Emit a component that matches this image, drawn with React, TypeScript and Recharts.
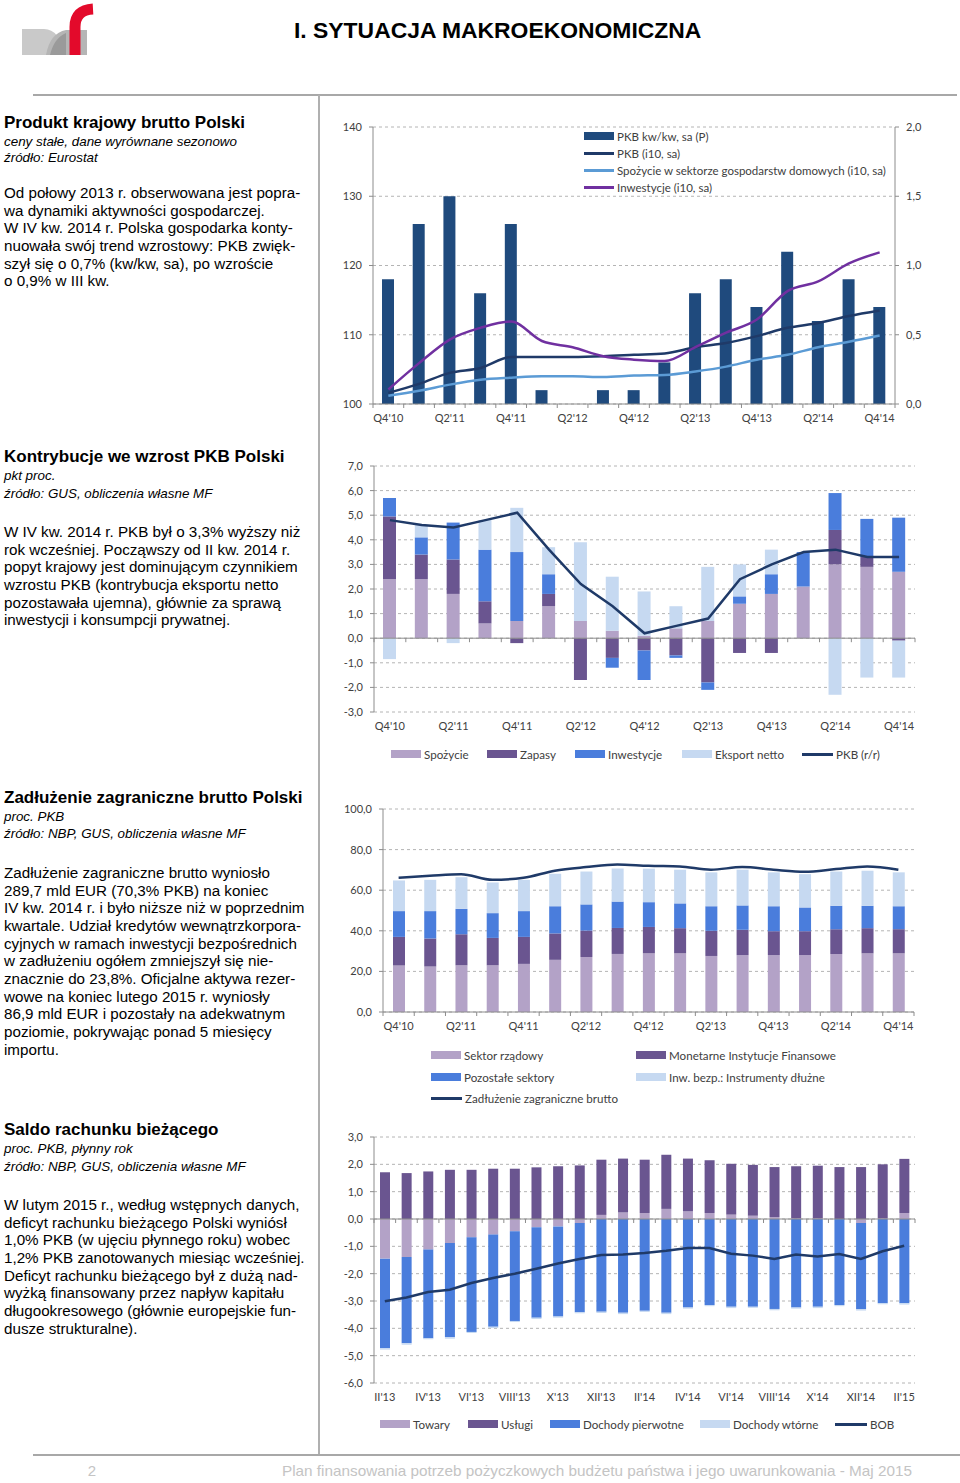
import {
  Bar,
  CartesianGrid,
  ComposedChart,
  Line,
  ReferenceLine,
  XAxis,
  YAxis,
} from "recharts";

// ---- data ----
const QUARTERS = ["Q4'10", "Q1'11", "Q2'11", "Q3'11", "Q4'11", "Q1'12", "Q2'12", "Q3'12", "Q4'12", "Q1'13", "Q2'13", "Q3'13", "Q4'13", "Q1'14", "Q2'14", "Q3'14", "Q4'14"];

// chart 1: PKB
const GDP_QOQ = [0.9, 1.3, 1.5, 0.8, 1.3, 0.1, 0, 0.1, 0.1, 0.3, 0.8, 0.9, 0.7, 1.1, 0.6, 0.9, 0.7];
const GDP_IDX = [101.6, 102.9, 104.5, 105.2, 106.8, 106.8, 106.8, 106.9, 107.1, 107.3, 108.2, 108.8, 109.8, 111.0, 111.7, 112.7, 113.5];
const CONS_IDX = [101.2, 101.9, 102.8, 103.5, 103.8, 104.0, 104.0, 103.9, 104.1, 104.2, 104.7, 105.4, 106.4, 107.1, 108.2, 109.0, 109.9];
const INV_IDX = [102.1, 105.9, 109.3, 111.0, 111.9, 109.1, 108.2, 106.9, 106.4, 106.2, 108.2, 110.3, 112.2, 116.3, 117.7, 120.3, 121.9];

// chart 2: kontrybucje
const C_CONS = [2.4, 2.4, 1.8, 0.6, 0.7, 1.3, 0.7, 0.3, 0.1, 0.4, 0.7, 1.4, 1.8, 2.1, 3.0, 2.9, 2.7];
const C_STOCK = [2.55, 1.0, 1.4, 0.9, -0.2, 0.5, -1.7, -0.8, -0.5, -0.7, -1.8, -0.6, -0.6, 0, 1.4, 0.4, -0.1];
const C_INV = [0.75, 0.7, 1.5, 2.1, 2.8, 0.8, 0, -0.4, -1.2, -0.1, -0.3, 0.3, 0.8, 1.4, 1.5, 1.55, 2.2];
const C_NX = [-0.85, 0.5, -0.2, 1.2, 1.8, 1.1, 3.2, 2.2, 1.8, 0.9, 2.2, 1.3, 1.0, 0, -2.3, -1.6, -1.5];
const C_GDP = [4.8, 4.6, 4.5, 4.8, 5.1, 3.6, 2.2, 1.3, 0.2, 0.5, 0.8, 2.4, 3.0, 3.5, 3.6, 3.3, 3.3];

// chart 3: zadłużenie zagraniczne
const D_GOV = [22.9, 22.4, 23.0, 23.0, 23.7, 25.7, 27.1, 28.6, 28.9, 28.9, 27.6, 28.0, 28.0, 28.0, 28.6, 28.9, 28.9];
const D_MFI = [14.1, 13.8, 15.3, 13.5, 13.3, 13.0, 13.0, 12.8, 13.0, 12.4, 12.4, 12.5, 11.8, 11.8, 12.2, 12.4, 11.9];
const D_OTHER = [12.7, 13.5, 12.5, 12.2, 12.7, 13.4, 12.9, 13.0, 12.2, 12.2, 12.1, 12.0, 12.3, 11.7, 11.5, 11.0, 11.3];
const D_PORTF = [15.1, 15.4, 15.6, 15.1, 15.4, 16.0, 16.2, 16.3, 16.5, 16.6, 16.7, 17.6, 16.7, 16.4, 16.9, 17.3, 16.7];
const D_TOTAL = [66.1, 67.1, 67.9, 65.1, 66.1, 69.6, 71.4, 72.7, 72.0, 71.7, 70.1, 71.4, 70.1, 69.1, 70.4, 71.7, 70.1];

// chart 4: saldo rachunku bieżącego
const MONTHS = ["II'13", "III'13", "IV'13", "V'13", "VI'13", "VII'13", "VIII'13", "IX'13", "X'13", "XI'13", "XII'13", "I'14", "II'14", "III'14", "IV'14", "V'14", "VI'14", "VII'14", "VIII'14", "IX'14", "X'14", "XI'14", "XII'14", "I'15", "II'15"];
const CA_GOODS = [-1.45, -1.39, -1.12, -0.88, -0.67, -0.57, -0.45, -0.30, -0.27, -0.15, 0.15, 0.24, 0.22, 0.37, 0.28, 0.22, 0.16, 0.12, 0.07, 0.02, 0.02, 0.0, -0.15, 0.02, 0.22];
const CA_SERV = [1.71, 1.68, 1.74, 1.80, 1.80, 1.84, 1.84, 1.89, 1.93, 1.96, 2.02, 1.97, 1.95, 1.98, 1.93, 1.93, 1.86, 1.86, 1.83, 1.91, 1.93, 1.90, 1.90, 1.98, 1.98];
const CA_PRIM = [-3.28, -3.16, -3.24, -3.45, -3.46, -3.37, -3.28, -3.31, -3.30, -3.26, -3.39, -3.43, -3.36, -3.43, -3.24, -3.15, -3.21, -3.21, -3.29, -3.24, -3.21, -3.15, -3.15, -3.08, -3.08];
const CA_SEC = [-0.05, -0.05, -0.04, -0.05, -0.04, -0.05, -0.04, -0.05, -0.04, -0.04, -0.05, -0.05, -0.04, -0.05, -0.04, -0.04, -0.05, -0.04, -0.05, -0.04, -0.05, -0.04, -0.05, -0.04, -0.05];
const CA_BOB = [-3.01, -2.87, -2.67, -2.59, -2.34, -2.16, -2.0, -1.82, -1.63, -1.46, -1.32, -1.30, -1.24, -1.16, -1.06, -1.06, -1.27, -1.34, -1.46, -1.30, -1.37, -1.28, -1.46, -1.18, -0.98];

// ---- styles ----
const SANS = '"Liberation Sans", Arial, sans-serif';
const CHART_FONT = "Lato, 'Open Sans', sans-serif";
const AXIS = "#8c8c8c";
const GRID = "#b4b4b4";
const TICK = "#404040";
const NAVY_BAR = "#1f4a7d";
const NAVY = "#1f3a68";
const SKY = "#5b9bd5";
const VIOLET = "#7030a0";
const LAV = "#b3a2c7";
const PURP = "#6a5590";
const BLUE = "#4a7ddc";
const LBLUE = "#c6d9f1";

const fmt1 = (v: number) => v.toFixed(1).replace(".", ",");

// category ticks: tick marks on category boundaries, label every n-th
function catTick(band: number, zeroUp: number, every: number, count: number) {
  return (p: any) => {
    const { x, y, payload, index } = p;
    const ty = y - zeroUp;
    return (
      <g>
        <line x1={x - band / 2} x2={x - band / 2} y1={ty} y2={ty + 4} stroke={AXIS} />
        {index === count - 1 && <line x1={x + band / 2} x2={x + band / 2} y1={ty} y2={ty + 4} stroke={AXIS} />}
        {index % every === 0 && (
          <text x={x} y={y + 18} textAnchor="middle" fontSize={11} fill={TICK}>
            {payload.value}
          </text>
        )}
      </g>
    );
  };
}

type LegendDef = { x: number; y: number; label: string; color: string; kind: "bar" | "line"; w?: number };

function Legend({ items, size = 11.6 }: { items: LegendDef[]; size?: number }) {
  return (
    <>
      {items.map((it) => (
        <div
          key={it.label}
          style={{
            position: "absolute",
            left: it.x,
            top: it.y - 8,
            height: 16,
            display: "flex",
            alignItems: "center",
            whiteSpace: "nowrap",
            fontFamily: CHART_FONT,
            fontSize: size,
            color: TICK,
          }}
        >
          <span style={{ display: "inline-block", width: it.w ?? 30, height: it.kind === "bar" ? 8 : 3, background: it.color, marginRight: 3 }} />
          <span>{it.label}</span>
        </div>
      ))}
    </>
  );
}

function Block({ titleY, title, notes, notesY, bodyY, body }: { titleY: number; title: string; notes: string[]; notesY: number[]; bodyY: number; body: string[] }) {
  const line = (key: string, y: number, lh: number, text: string, style: object) => (
    <div key={key} style={{ position: "absolute", left: 4, top: y - lh / 2, height: lh, lineHeight: `${lh}px`, whiteSpace: "nowrap", fontFamily: SANS, color: "#000", ...style }}>
      {text}
    </div>
  );
  return (
    <>
      {line("t", titleY, 20, title, { fontSize: 17, fontWeight: 700 })}
      {notes.map((n, i) => line("n" + i, notesY[i], 17, n, { fontSize: 13.4, fontStyle: "italic" }))}
      {body.map((b, i) => line("b" + i, bodyY + i * 17.65, 17.65, b, { fontSize: 15.2 }))}
    </>
  );
}

// ---- charts ----
const gdpRows = QUARTERS.map((q, i) => ({ q, qoq: GDP_QOQ[i], gdp: GDP_IDX[i], cons: CONS_IDX[i], inv: INV_IDX[i] }));
const contribRows = QUARTERS.map((q, i) => ({ q, cons: C_CONS[i], stock: C_STOCK[i], inv: C_INV[i], nx: C_NX[i], gdp: C_GDP[i] }));
const debtRows = QUARTERS.map((q, i) => ({ q, gov: D_GOV[i], mfi: D_MFI[i], other: D_OTHER[i], portf: D_PORTF[i], total: D_TOTAL[i] }));
const caRows = MONTHS.map((m, i) => ({ m, goods: CA_GOODS[i], serv: CA_SERV[i], prim: CA_PRIM[i], sec: CA_SEC[i], bob: CA_BOB[i] }));

const yTick = { fill: TICK, fontSize: 11 };

function GdpChart() {
  const band = 522 / 17;
  return (
    <ComposedChart width={630} height={315} data={gdpRows} margin={{ top: 12, right: 25, left: 0, bottom: 0 }}>
      <CartesianGrid yAxisId="l" stroke={GRID} strokeDasharray="3 3" vertical={false} />
      <XAxis dataKey="q" interval={0} height={26} tickSize={0} tickMargin={0} tickLine={false} axisLine={{ stroke: AXIS }} tick={catTick(band, 0, 2, 17)} />
      <YAxis yAxisId="l" domain={[100, 140]} ticks={[100, 110, 120, 130, 140]} width={43} tick={yTick} tickSize={4} tickMargin={7} axisLine={{ stroke: AXIS }} tickLine={{ stroke: AXIS }} />
      <YAxis yAxisId="r" orientation="right" domain={[0, 2]} ticks={[0, 0.5, 1, 1.5, 2]} width={40} tick={yTick} tickSize={4} tickMargin={7} tickFormatter={fmt1} axisLine={{ stroke: AXIS }} tickLine={{ stroke: AXIS }} />
      <Bar yAxisId="r" dataKey="qoq" fill={NAVY_BAR} barSize={12} isAnimationActive={false} />
      <Line yAxisId="l" type="monotone" dataKey="gdp" stroke={NAVY} strokeWidth={2.5} dot={false} isAnimationActive={false} />
      <Line yAxisId="l" type="monotone" dataKey="cons" stroke={SKY} strokeWidth={2.5} dot={false} isAnimationActive={false} />
      <Line yAxisId="l" type="monotone" dataKey="inv" stroke={VIOLET} strokeWidth={2.5} dot={false} isAnimationActive={false} />
    </ComposedChart>
  );
}

function ContribChart() {
  const band = 541 / 17;
  return (
    <ComposedChart width={630} height={281} data={contribRows} stackOffset="sign" margin={{ top: 11, right: 45, left: 0, bottom: 0 }}>
      <CartesianGrid stroke={GRID} strokeDasharray="3 3" vertical={false} />
      <XAxis dataKey="q" interval={0} height={24} tickSize={0} tickMargin={0} tickLine={false} axisLine={false} tick={catTick(band, 246 * 0.3, 2, 17)} />
      <YAxis domain={[-3, 7]} ticks={[-3, -2, -1, 0, 1, 2, 3, 4, 5, 6, 7]} width={44} tick={yTick} tickSize={4} tickMargin={7} tickFormatter={fmt1} axisLine={{ stroke: AXIS }} tickLine={{ stroke: AXIS }} />
      <ReferenceLine y={0} stroke={AXIS} />
      <Bar dataKey="cons" stackId="a" fill={LAV} barSize={13} isAnimationActive={false} />
      <Bar dataKey="stock" stackId="a" fill={PURP} barSize={13} isAnimationActive={false} />
      <Bar dataKey="inv" stackId="a" fill={BLUE} barSize={13} isAnimationActive={false} />
      <Bar dataKey="nx" stackId="a" fill={LBLUE} barSize={13} isAnimationActive={false} />
      <Line dataKey="gdp" stroke={NAVY} strokeWidth={2.5} dot={false} isAnimationActive={false} />
    </ComposedChart>
  );
}

function DebtChart() {
  const band = 531 / 17;
  return (
    <ComposedChart width={630} height={241} data={debtRows} margin={{ top: 14, right: 46, left: 0, bottom: 0 }}>
      <CartesianGrid stroke={GRID} strokeDasharray="3 3" vertical={false} />
      <XAxis dataKey="q" interval={0} height={24} tickSize={0} tickMargin={0} tickLine={false} axisLine={{ stroke: AXIS }} tick={catTick(band, 0, 2, 17)} />
      <YAxis domain={[0, 100]} ticks={[0, 20, 40, 60, 80, 100]} width={53} tick={yTick} tickSize={4} tickMargin={7} tickFormatter={fmt1} axisLine={{ stroke: AXIS }} tickLine={{ stroke: AXIS }} />
      <Bar dataKey="gov" stackId="a" fill={LAV} barSize={12} isAnimationActive={false} />
      <Bar dataKey="mfi" stackId="a" fill={PURP} barSize={12} isAnimationActive={false} />
      <Bar dataKey="other" stackId="a" fill={BLUE} barSize={12} isAnimationActive={false} />
      <Bar dataKey="portf" stackId="a" fill={LBLUE} barSize={12} isAnimationActive={false} />
      <Line type="monotone" dataKey="total" stroke={NAVY} strokeWidth={2.5} dot={false} isAnimationActive={false} />
    </ComposedChart>
  );
}

function CurrentAccountChart() {
  const band = 541 / 25;
  return (
    <ComposedChart width={630} height={282} data={caRows} stackOffset="sign" margin={{ top: 12, right: 45, left: 0, bottom: 0 }}>
      <CartesianGrid stroke={GRID} strokeDasharray="3 3" vertical={false} />
      <XAxis dataKey="m" interval={0} height={24} tickSize={0} tickMargin={0} tickLine={false} axisLine={false} tick={catTick(band, (246 * 6) / 9, 2, 25)} />
      <YAxis domain={[-6, 3]} ticks={[-6, -5, -4, -3, -2, -1, 0, 1, 2, 3]} width={44} tick={yTick} tickSize={4} tickMargin={7} tickFormatter={fmt1} axisLine={{ stroke: AXIS }} tickLine={{ stroke: AXIS }} />
      <ReferenceLine y={0} stroke={AXIS} />
      <Bar dataKey="goods" stackId="a" fill={LAV} barSize={10} isAnimationActive={false} />
      <Bar dataKey="serv" stackId="a" fill={PURP} barSize={10} isAnimationActive={false} />
      <Bar dataKey="prim" stackId="a" fill={BLUE} barSize={10} isAnimationActive={false} />
      <Bar dataKey="sec" stackId="a" fill={LBLUE} barSize={10} isAnimationActive={false} />
      <Line dataKey="bob" stroke={NAVY} strokeWidth={2.5} dot={false} isAnimationActive={false} />
    </ComposedChart>
  );
}

function Logo() {
  return (
    <svg width={100} height={60} style={{ position: "absolute", left: 0, top: 0 }}>
      <path d="M22 55 V29 H44 Q60 29 63 55 Z" fill="#c9c9c9" />
      <path d="M46 55 Q50 33 66 30 H87 V55 Z" fill="#b5b5b5" />
      <path d="M50 55 Q54 38 66 33 V55 Z" fill="#9a9a9a" />
      <path d="M75 55 V27 Q75 10 93 9" stroke="#e30a2b" strokeWidth={11} fill="none" />
    </svg>
  );
}

const abs = (left: number, top: number) => ({ position: "absolute" as const, left, top });

export default function App() {
  return (
    <div style={{ position: "absolute", left: 0, top: 0, width: 960, height: 1483, background: "#fff", overflow: "hidden" }}>
      <Logo />
      <div style={{ ...abs(294, 16), fontFamily: SANS, fontWeight: 700, fontSize: 22.9, lineHeight: "28px", whiteSpace: "nowrap", color: "#000" }}>
        I. SYTUACJA MAKROEKONOMICZNA
      </div>
      <div style={{ ...abs(33, 94), width: 924, height: 2, background: "#a8a8a8" }} />
      <div style={{ ...abs(318, 95), width: 2, height: 1360, background: "#b0b0b0" }} />
      <div style={{ ...abs(33, 1454), width: 927, height: 2, background: "#a8a8a8" }} />
      <svg width={960} height={30} style={abs(0, 1458)}>
        <text x={92} y={18} fontFamily={SANS} fontSize={15} fill="#c4c4c4" textAnchor="middle">2</text>
        <text x={282} y={18} fontFamily={SANS} fontSize={15} fill="#c4c4c4" textLength={630} lengthAdjust="spacingAndGlyphs">
          Plan finansowania potrzeb pożyczkowych budżetu państwa i jego uwarunkowania - Maj 2015
        </text>
      </svg>

      <Block
        titleY={123}
        title="Produkt krajowy brutto Polski"
        notes={["ceny stałe, dane wyrównane sezonowo", "źródło: Eurostat"]}
        notesY={[141, 157]}
        bodyY={193}
        body={[
          "Od połowy 2013 r. obserwowana jest popra-",
          "wa dynamiki aktywności gospodarczej.",
          "W IV kw. 2014 r. Polska gospodarka konty-",
          "nuowała swój trend wzrostowy: PKB zwięk-",
          "szył się o 0,7% (kw/kw, sa), po wzroście",
          "o 0,9% w III kw.",
        ]}
      />
      <Block
        titleY={457}
        title="Kontrybucje we wzrost PKB Polski"
        notes={["pkt proc.", "źródło: GUS, obliczenia własne MF"]}
        notesY={[475, 493]}
        bodyY={532}
        body={[
          "W IV kw. 2014 r. PKB był o 3,3% wyższy niż",
          "rok wcześniej. Począwszy od II kw. 2014 r.",
          "popyt krajowy jest dominującym czynnikiem",
          "wzrostu PKB (kontrybucja eksportu netto",
          "pozostawała ujemna), głównie za sprawą",
          "inwestycji i konsumpcji prywatnej.",
        ]}
      />
      <Block
        titleY={798}
        title="Zadłużenie zagraniczne brutto Polski"
        notes={["proc. PKB", "źródło: NBP, GUS, obliczenia własne MF"]}
        notesY={[816, 833]}
        bodyY={873}
        body={[
          "Zadłużenie zagraniczne brutto wyniosło",
          "289,7 mld EUR (70,3% PKB) na koniec",
          "IV kw. 2014 r. i było niższe niż w poprzednim",
          "kwartale. Udział kredytów wewnątrzkorpora-",
          "cyjnych w ramach inwestycji bezpośrednich",
          "w zadłużeniu ogółem zmniejszył się nie-",
          "znacznie do 23,8%. Oficjalne aktywa rezer-",
          "wowe na koniec lutego 2015 r. wyniosły",
          "86,9 mld EUR i pozostały na adekwatnym",
          "poziomie, pokrywając ponad 5 miesięcy",
          "importu.",
        ]}
      />
      <Block
        titleY={1130}
        title="Saldo rachunku bieżącego"
        notes={["proc. PKB, płynny rok", "źródło: NBP, GUS, obliczenia własne MF"]}
        notesY={[1148, 1166]}
        bodyY={1205}
        body={[
          "W lutym 2015 r., według wstępnych danych,",
          "deficyt rachunku bieżącego Polski wyniósł",
          "1,0% PKB (w ujęciu płynnego roku) wobec",
          "1,2% PKB zanotowanych miesiąc wcześniej.",
          "Deficyt rachunku bieżącego był z dużą nad-",
          "wyżką finansowany przez napływ kapitału",
          "długookresowego (głównie europejskie fun-",
          "dusze strukturalne).",
        ]}
      />

      <div style={{ ...abs(330, 115), fontFamily: CHART_FONT }}>
        <GdpChart />
      </div>
      <Legend
        size={11.5}
        items={[
          { x: 584, y: 136, label: "PKB kw/kw, sa (P)", color: NAVY_BAR, kind: "bar" },
          { x: 584, y: 153, label: "PKB (i10, sa)", color: NAVY, kind: "line" },
          { x: 584, y: 170, label: "Spożycie w sektorze gospodarstw domowych (i10, sa)", color: SKY, kind: "line" },
          { x: 584, y: 187, label: "Inwestycje (i10, sa)", color: VIOLET, kind: "line" },
        ]}
      />

      <div style={{ ...abs(330, 455), fontFamily: CHART_FONT }}>
        <ContribChart />
      </div>
      <Legend
        items={[
          { x: 391, y: 754, label: "Spożycie", color: LAV, kind: "bar" },
          { x: 487, y: 754, label: "Zapasy", color: PURP, kind: "bar" },
          { x: 575, y: 754, label: "Inwestycje", color: BLUE, kind: "bar" },
          { x: 682, y: 754, label: "Eksport netto", color: LBLUE, kind: "bar" },
          { x: 802, y: 754, label: "PKB (r/r)", color: NAVY, kind: "line", w: 31 },
        ]}
      />

      <div style={{ ...abs(330, 795), fontFamily: CHART_FONT }}>
        <DebtChart />
      </div>
      <Legend
        items={[
          { x: 431, y: 1055, label: "Sektor rządowy", color: LAV, kind: "bar" },
          { x: 636, y: 1055, label: "Monetarne Instytucje Finansowe", color: PURP, kind: "bar" },
          { x: 431, y: 1077, label: "Pozostałe sektory", color: BLUE, kind: "bar" },
          { x: 636, y: 1077, label: "Inw. bezp.: Instrumenty dłużne", color: LBLUE, kind: "bar" },
          { x: 431, y: 1098, label: "Zadłużenie zagraniczne brutto", color: NAVY, kind: "line", w: 31 },
        ]}
      />

      <div style={{ ...abs(330, 1125), fontFamily: CHART_FONT }}>
        <CurrentAccountChart />
      </div>
      <Legend
        items={[
          { x: 380, y: 1424, label: "Towary", color: LAV, kind: "bar" },
          { x: 468, y: 1424, label: "Usługi", color: PURP, kind: "bar" },
          { x: 550, y: 1424, label: "Dochody pierwotne", color: BLUE, kind: "bar" },
          { x: 700, y: 1424, label: "Dochody wtórne", color: LBLUE, kind: "bar" },
          { x: 835, y: 1424, label: "BOB", color: NAVY, kind: "line", w: 32 },
        ]}
      />
    </div>
  );
}
